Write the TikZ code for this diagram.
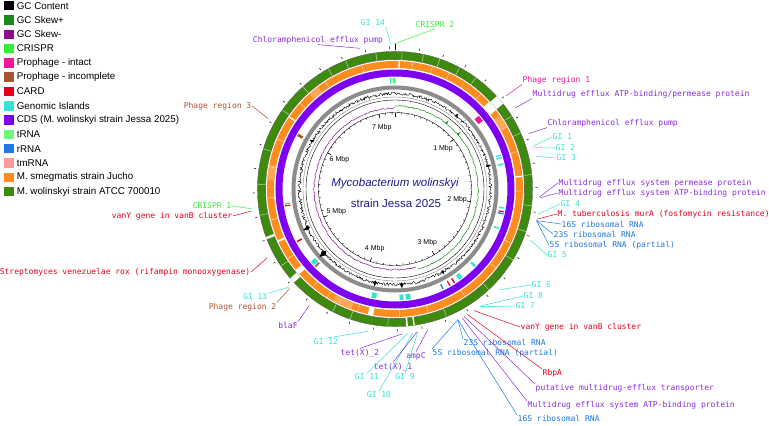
\documentclass[tikz,border=0pt]{standalone}
\usepackage{fontspec}
\setmainfont{Liberation Sans}
\newfontfamily\monofam{DejaVu Sans Mono}
\usetikzlibrary{positioning}
\definecolor{gcpcol}{HTML}{178A17}
\definecolor{gcmcol}{HTML}{8B0A8B}
\definecolor{crcol}{HTML}{33F033}
\definecolor{phicol}{HTML}{F5169A}
\definecolor{phncol}{HTML}{A65530}
\definecolor{cardcol}{HTML}{E3001B}
\definecolor{gicol}{HTML}{33E3D3}
\definecolor{cdscol}{HTML}{7D00F0}
\definecolor{cdslab}{HTML}{8A2BE2}
\definecolor{trnacol}{HTML}{6EFA7A}
\definecolor{rrnacol}{HTML}{1E78E6}
\definecolor{tmcol}{HTML}{FF9A9A}
\definecolor{smegcol}{HTML}{FF8C1F}
\definecolor{wolcol}{HTML}{3E8A0C}
\definecolor{titlecol}{HTML}{1B1B8F}

\begin{document}
\begin{tikzpicture}[x=1pt,y=1pt,
	lab/.style={font=\monofam\fontsize{8}{9}\selectfont,inner sep=0.5pt},
	gil/.style={lab,text=gicol},
	cdsl/.style={lab,text=cdslab},
	cardl/.style={lab,text=cardcol},
	rrnal/.style={lab,text=rrnacol},
	crl/.style={lab,text=crcol},
	lead/.style={line width=0.5pt},
	legbox/.style={minimum size=9.5pt,inner sep=0pt},
	legtext/.style={font=\fontsize{9.8}{11}\selectfont,inner sep=0pt},
	mbp/.style={font=\fontsize{7}{8}\selectfont,inner sep=0pt}]
	\useasboundingbox (-395,189) rectangle (374,-237);
	\pgfmathsetseed{11}
	\foreach \c/\t [count=\i from 0] in {black/GC Content,gcpcol/GC Skew+,gcmcol/GC Skew-,crcol/CRISPR,phicol/Prophage - intact,phncol/Prophage - incomplete,cardcol/CARD,gicol/Genomic Islands,cdscol/CDS (M. wolinskyi strain Jessa 2025),trnacol/tRNA,rrnacol/rRNA,tmcol/tmRNA,smegcol/M. smegmatis strain Jucho,wolcol/M. wolinskyi strain ATCC 700010}
		{\node[legbox,fill=\c] (key\i) at (-386,{183.3-14.3*\i}) {}; \node[legtext,right=2.7pt of key\i] (txt\i) {\t};}
	\draw[wolcol,line width=8pt] (0,0) circle (133.5pt);
	\draw[gray!60!black,line width=0.35pt] (0,0) circle (137.6pt) (0,0) circle (129.4pt);
	\draw[smegcol,line width=7pt] (0,0) circle (124.5pt);
	\draw[cdscol,line width=7pt] (0,0) circle (116pt);
	\foreach \a/\b in {55/61,200/209,274/281,318/323} \draw[smegcol!75,line width=7pt] ({90-\a}:124.5) arc[start angle={90-\a},end angle={90-\b},radius=124.5pt];
	\foreach \a in {3,12,19,28,36,58,66,84,97,108,121,137,158,183,199,207,236,259,272,287,305,318,331,339,352} \draw[white,line width=0.5pt,opacity=0.65] ({90-\a}:129.5) -- ({90-\a}:137.5);
	\foreach \a in {8,17,25,42,61,73,91,115,128,147,165,178,197,212,220,237,256,266,280,293,312,327,345} \draw[white,line width=0.5pt,opacity=0.65] ({90-\a}:121) -- ({90-\a}:128);
	\foreach \a/\b in {47.6/51.8,171.7/172.3,174.6/175.3,227.2/229.6,248.6/249.6} \draw[white,line width=8.4pt] ({90-\a}:133.5) arc[start angle={90-\a},end angle={90-\b},radius=133.5pt];
	\foreach \a/\b in {1.6/2.2,47.2/52,84/84.6,189.8/192.2,228.4/230.8,245.5/246.4,304/304.6} \draw[white,line width=7.4pt] ({90-\a}:124.5) arc[start angle={90-\a},end angle={90-\b},radius=124.5pt];
	\foreach \a/\b/\c in {357.4/358.1/gicol,358.7/359.3/gicol,359.6/360.2/crcol,298.4/299.8/phncol,48.8/52.2/phicol,71.9/72.6/gicol,73.2/73.9/gicol,76.6/77.4/gicol,99.6/100.3/gicol,101.6/102.2/cardcol,102.6/103.3/rrnacol,110.4/111.2/gicol,133.3/134.6/gicol,142.6/144.8/gicol,147.3/148/cardcol,150.1/150.7/cardcol,154/154.7/rrnacol,171.8/174.3/gicol,175.5/177.6/gicol,189.8/192.3/gicol,225.3/226.2/phncol,226.6/229.2/gicol,241.4/242.2/cardcol,261/261.6/cardcol,262/262.6/crcol}
		\draw[\c,line width=5.5pt] ({90-\a}:108.5) arc[start angle={90-\a},end angle={90-\b},radius=108.5pt];
	\draw[gray!90,line width=4pt] (0,0) circle (101.5pt);
	\draw[line width=0.4pt] plot[domain=0:360,samples=721,variable=\a] ({90-\a}:{95.5+1.6*(2*rnd-1)});
	\foreach \a/\h/\w in {40/3/0.8,76/4/0.8,150/3/0.8,176/4/1,192/4/1,228/6/1.8,246/5/1.2,300/3/0.8} \fill ({90-\a+\w}:95.5) -- ({90-\a}:{95.5+\h}) -- ({90-\a-\w}:95.5) -- ({90-\a}:{95.5-\h/2}) -- cycle;
	\draw[gray,line width=0.4pt] (0,0) circle (92pt);
	\draw[line width=0.4pt] (0,0) circle (89pt);
	\draw[gcpcol,line width=0.5pt] plot[domain=0:164,samples=165,variable=\a] ({90-\a}:{83.2+0.7*(2*rnd-1)});
	\draw[gcmcol,line width=0.5pt] plot[domain=165:360,samples=196,variable=\a] ({90-\a}:{80.8+0.7*(2*rnd-1)});
	\foreach \a in {38,49} \fill[gcpcol] ({90-\a+0.8}:83) -- ({90-\a}:87) -- ({90-\a-0.8}:83) -- cycle;
	\draw[line width=0.4pt] (0,0) circle (76.5pt);
	\foreach \i in {0,...,72} \draw[line width=0.4pt] ({90-4.97*\i}:76.5) -- ({90-4.97*\i}:74.8);
	\foreach \i in {0,...,7} \draw[line width=0.6pt] ({90-49.7*\i}:76.5) -- ({90-49.7*\i}:72.5);
	\foreach \k in {1,...,7} \node[mbp] (mb\k) at ({90-49.7*\k}:63) {\k\ Mbp};
	\foreach \i in {0,...,36} \draw[line width=0.5pt] ({90-9.94*\i}:140.3) -- ({90-9.94*\i}:142.5);
	\draw[line width=0.8pt] (90:139) -- (90:145);
	\node[font=\fontsize{11.5}{13}\selectfont\itshape,text=titlecol] (ttl) at (0,5) {Mycobacterium wolinskyi};
	\node[font=\fontsize{11.5}{13}\selectfont,text=titlecol] (sub) at (1,-14) {strain Jessa 2025};
	\foreach \n/\t in {ph1/50,mdp1/56,cap2/67.5,gi1/72.7,gi2/73.4,gi3/77,mdp2/93,mda1/93.5,gi4/100,mura/102,r16a/102.6,r23a/102.6,r5a/102.6,gi5/110.7,gi6/134,gi8/143.8,gi7/144.3,vany2/147,rbpa/150,pmt/151.5,mda2/152.5,r16b/154.3,r23b/154.3,r5b/154.3,ampc/167,gi9/171,tet1/171.4,gi10/173,gi11/175,tet2/177,gi12/191,blaf/216.4,ph2/226.6,gi13/227.3,rox/241.7,vany1/261.3,cr1/262.2,ph3/299,cap1/346,gi14/358.3,cr2/359.5}
		\coordinate (p\n) at ({90-\t}:145);
	\node[lab,text=phicol,anchor=west] (lph1) at (127,109) {Phage region 1};
	\node[lab,text=phncol,anchor=east] (lph2) at (-118,-118) {Phage region 2};
	\node[lab,text=phncol,anchor=east] (lph3) at (-143,83) {Phage region 3};
	\foreach \n/\x/\y/\t in {mdp1/137/95/{Multidrug efflux ATP-binding/permease protein},cap2/152/66/Chloramphenicol efflux pump,mdp2/163/6/Multidrug efflux system permease protein,mda1/163/-4/Multidrug efflux system ATP-binding protein}
		\node[cdsl,anchor=west] (l\n) at (\x,\y) {\t};
	\foreach \n/\x/\y/\t in {pmt/140/-195/putative multidrug-efflux transporter,mda2/132/-212/Multidrug efflux system ATP-binding protein}
		\node[cdsl,anchor=north west] (l\n) at (\x,\y) {\t};
	\foreach \n/\x/\y/\t in {ampc/21/-167/ampC,tet1/-2/-178/tet(X)\_1,tet2/-35/-164/tet(X)\_2,blaf/-107/-136/blaF,cap1/-77/149/Chloramphenicol efflux pump}
		\node[cdsl] (l\n) at (\x,\y) {\t};
	\foreach \n/\x/\y/\t in {gi1/157/52/GI 1,gi2/160/41/GI 2,gi3/161/31/GI 3,gi4/165/-15/GI 4,gi5/152/-66/GI 5,gi6/136/-96/GI 6,gi8/128/-107/GI 8,gi7/120/-117/GI 7}
		\node[gil,anchor=west] (l\n) at (\x,\y) {\t};
	\foreach \n/\x/\y/\t in {gi9/10/-188/GI 9,gi10/-16/-206/GI 10,gi11/-28/-188/GI 11,gi12/-69/-153/GI 12,gi14/-22/166/GI 14}
		\node[gil] (l\n) at (\x,\y) {\t};
	\node[gil,anchor=east] (lgi13) at (-127,-108) {GI 13};
	\foreach \n/\x/\y/\t in {mura/162/-25/M. tuberculosis murA (fosfomycin resistance),vany2/125/-138/vanY gene in vanB cluster}
		\node[cardl,anchor=west] (l\n) at (\x,\y) {\t};
	\node[cardl,anchor=north west] (lrbpa) at (147,-180) {RbpA};
	\foreach \n/\x/\y/\t in {rox/-144/-83/Streptomyces venezuelae rox (rifampin monooxygenase),vany1/-162/-27/vanY gene in vanB cluster}
		\node[cardl,anchor=east] (l\n) at (\x,\y) {\t};
	\foreach \n/\x/\y/\t in {r16a/166/-35/16S ribosomal RNA,r23a/158/-45/23S ribosomal RNA,r5a/154/-56/5S ribosomal RNA (partial)}
		\node[rrnal,anchor=west] (l\n) at (\x,\y) {\t};
	\foreach \n/\x/\y/\t in {r16b/122/-226/16S ribosomal RNA,r23b/68/-150/23S ribosomal RNA,r5b/37/-160/5S ribosomal RNA (partial)}
		\node[rrnal,anchor=north west] (l\n) at (\x,\y) {\t};
	\node[crl,anchor=east] (lcr1) at (-163,-17) {CRISPR 1};
	\node[crl] (lcr2) at (40,164) {CRISPR 2};
	\foreach \n/\e in {gi1/west,gi2/west,gi3/west,gi4/west,gi5/west,gi6/west,gi8/west,gi7/west,gi9/north,gi10/north,gi11/north,gi12/north,gi13/north east,gi14/south east} \draw[lead,gicol] (p\n) -- (l\n.\e);
	\foreach \n/\e in {mdp1/south west,cap2/south west,mdp2/west,mda1/west,pmt/north west,mda2/north west,ampc/north,tet1/north,tet2/north,blaf/north east,cap1/south} \draw[lead,cdslab] (p\n) -- (l\n.\e);
	\foreach \n/\e in {mura/west,vany2/west,rbpa/north west,rox/east,vany1/east} \draw[lead,cardcol] (p\n) -- (l\n.\e);
	\foreach \n/\e in {r16a/west,r23a/west,r5a/west,r16b/north west,r23b/north west,r5b/north west} \draw[lead,rrnacol] (p\n) -- (l\n.\e);
	\foreach \n/\e in {cr1/east,cr2/south} \draw[lead,crcol] (p\n) -- (l\n.\e);
	\draw[lead,phicol] (pph1) -- (lph1.south west);
	\foreach \n/\e in {ph2/north east,ph3/east} \draw[lead,phncol] (p\n) -- (l\n.\e);
\end{tikzpicture}
\end{document}
